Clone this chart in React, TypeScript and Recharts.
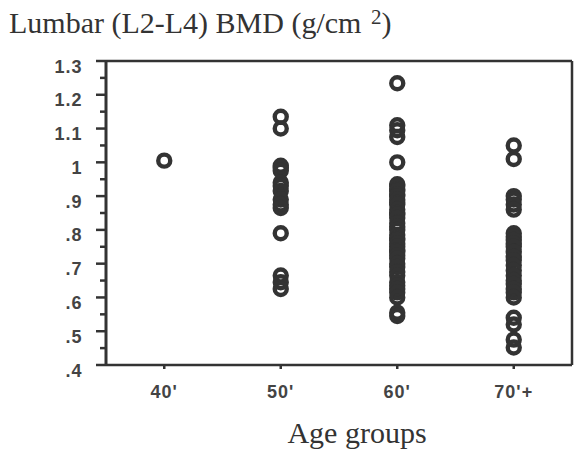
import React from 'react';
import { ScatterChart, Scatter, XAxis, YAxis } from 'recharts';

// Categories (age groups) and their positions on the x axis
const groupLabels = ["40'", "50'", "60'", "70'+"];
const groupPositions = [1, 2, 3, 4];

// Lumbar BMD values (g/cm2), per age group
const bmd40s = [1.005];
const bmd50s = [1.135, 1.1, 0.99, 0.985, 0.975, 0.94, 0.93, 0.915, 0.89, 0.875, 0.865, 0.79, 0.665, 0.645, 0.625];
const bmd60s = [
  1.234, 1.11, 1.095, 1.075, 1.0,
  0.935, 0.93, 0.92, 0.915, 0.905, 0.9, 0.89, 0.88, 0.875, 0.86, 0.85, 0.845, 0.835, 0.82, 0.81, 0.8,
  0.785, 0.775, 0.77, 0.76, 0.75, 0.74, 0.735, 0.725, 0.715, 0.7, 0.69, 0.675, 0.665, 0.645, 0.635,
  0.625, 0.615, 0.6, 0.555, 0.545,
];
const bmd70s = [
  1.05, 1.01, 0.9, 0.89, 0.875, 0.86,
  0.79, 0.78, 0.77, 0.76, 0.75, 0.735, 0.72, 0.71, 0.695, 0.68, 0.665, 0.65, 0.64, 0.625, 0.615, 0.6,
  0.54, 0.52, 0.475, 0.452,
];
const groupValues = [bmd40s, bmd50s, bmd60s, bmd70s];

// Axis ticks
const yTicks = [0.4, 0.45, 0.5, 0.55, 0.6, 0.65, 0.7, 0.75, 0.8, 0.85, 0.9, 0.95, 1.0, 1.05, 1.1, 1.15, 1.2, 1.25, 1.3];
const yMajorTicks = [0.4, 0.5, 0.6, 0.7, 0.8, 0.9, 1.0, 1.1, 1.2, 1.3];
const yTickLabels = ['.4', '.5', '.6', '.7', '.8', '.9', '1', '1.1', '1.2', '1.3'];

const points = groupValues.flatMap((vals, i) =>
  vals.map((v) => ({ x: groupPositions[i], y: v }))
);

const INK = '#333';
const LABEL_INK = '#444';
const SANS = '"Liberation Sans", Arial, Helvetica, sans-serif';
const SERIF = '"Liberation Serif", "Times New Roman", serif';

const majorIndex = (v: number) => yMajorTicks.findIndex((m) => Math.abs(m - v) < 1e-6);

const LeftTick = (props: any) => {
  const { x, y, payload } = props;
  const idx = majorIndex(payload.value);
  const major = idx >= 0;
  return (
    <g>
      <line x1={x} y1={y} x2={x - (major ? 10 : 6)} y2={y} stroke={INK} strokeWidth={2.5} />
      {major && (
        <text x={x - 23.5} y={y + 11.5} textAnchor="end" fontFamily={SANS} fontSize={18} fontWeight="bold" letterSpacing={1} fill={LABEL_INK}>
          {yTickLabels[idx]}
        </text>
      )}
    </g>
  );
};

const RightTick = (props: any) => {
  const { x, y } = props;
  return <line x1={x} y1={y} x2={x + 6} y2={y} stroke={INK} strokeWidth={2.5} />;
};

const EmptyTick = () => <g />;

const Ring = (props: any) => (
  <circle cx={props.cx} cy={props.cy} r={6} fill="none" stroke={INK} strokeWidth={4.4} />
);

export default function App() {
  return (
    <div style={{ position: 'absolute', left: 0, top: 0, width: 577, height: 449, background: '#fff' }}>
      <svg width={577} height={50} style={{ position: 'absolute', left: 0, top: 0 }}>
        <text x={9} y={33} fontFamily={SERIF} fontSize={30} fill={INK}>
          Lumbar (L2-L4) BMD (g/cm <tspan dx={2} dy={-9} fontSize={21}>2</tspan>
          <tspan dy={9}>)</tspan>
        </text>
      </svg>
      <ScatterChart width={577} height={449} margin={{ top: 51, right: 0, bottom: 0, left: 0 }}>
        <XAxis
          xAxisId="bottom"
          type="number"
          dataKey="x"
          domain={[0.5, 4.5]}
          ticks={groupPositions}
          tickFormatter={(v: number) => groupLabels[groupPositions.indexOf(v)] ?? ''}
          height={84}
          tickSize={4}
          tickMargin={16}
          stroke={INK}
          axisLine={{ stroke: INK, strokeWidth: 2.5 }}
          tickLine={{ stroke: INK, strokeWidth: 2.5 }}
          tick={{ fontFamily: SANS, fontSize: 18, fontWeight: 'bold', fill: LABEL_INK, letterSpacing: 1 }}
          label={{ value: 'Age groups', position: 'insideBottom', offset: 6, dx: 18, fontFamily: SERIF, fontSize: 30, fill: INK }}
        />
        <XAxis
          xAxisId="top"
          orientation="top"
          type="number"
          domain={[0.5, 4.5]}
          ticks={groupPositions}
          height={10}
          tickSize={4}
          stroke={INK}
          axisLine={{ stroke: INK, strokeWidth: 2.5 }}
          tickLine={{ stroke: INK, strokeWidth: 2.5 }}
          tick={EmptyTick}
        />
        <YAxis
          yAxisId="left"
          type="number"
          dataKey="y"
          domain={[0.4, 1.3]}
          ticks={yTicks}
          interval={0}
          width={106}
          tickSize={0}
          tickMargin={0}
          tickLine={false}
          stroke={INK}
          axisLine={{ stroke: INK, strokeWidth: 3 }}
          tick={LeftTick}
        />
        <YAxis
          yAxisId="right"
          orientation="right"
          type="number"
          domain={[0.4, 1.3]}
          ticks={yTicks}
          interval={0}
          width={5}
          tickSize={0}
          tickMargin={0}
          tickLine={false}
          stroke={INK}
          axisLine={{ stroke: INK, strokeWidth: 2.5 }}
          tick={RightTick}
        />
        <Scatter
          data={points}
          xAxisId="bottom"
          yAxisId="left"
          shape={Ring}
          isAnimationActive={false}
        />
      </ScatterChart>
    </div>
  );
}
